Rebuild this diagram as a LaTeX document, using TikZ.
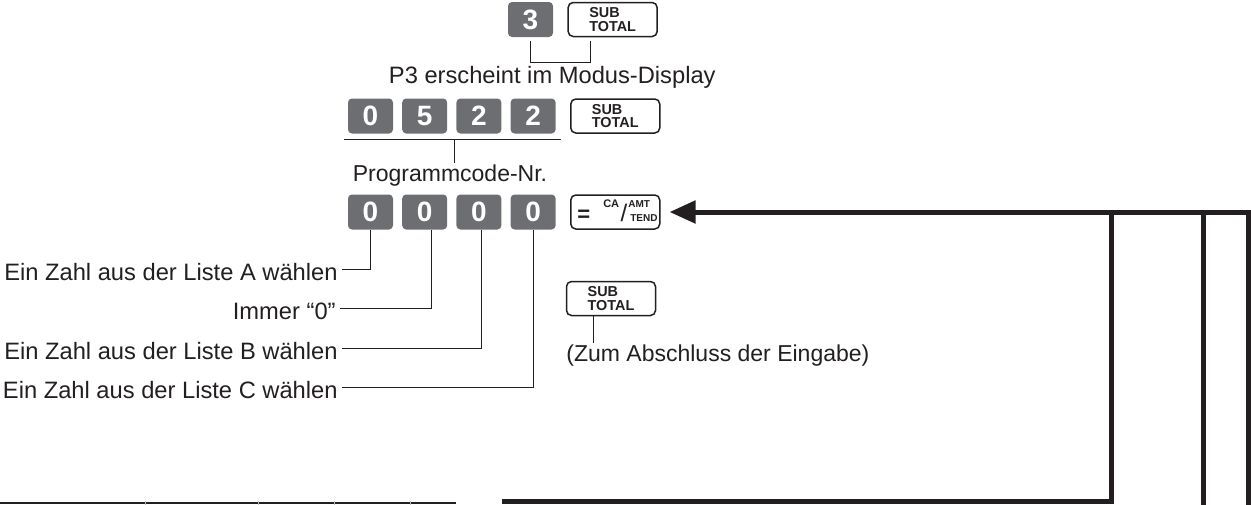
\documentclass[tikz,border=0pt]{standalone}
\usepackage{fontspec}
\setmainfont{Liberation Sans}
\usepackage{xcolor}
\usepackage{tikz}
\usetikzlibrary{arrows.meta, positioning, calc}
\definecolor{keygray}{HTML}{6D6E71}
\definecolor{ink}{HTML}{231F20}
\newcommand{\subtotal}{SUB\\TOTAL}

\begin{document}
\begin{tikzpicture}[x=0.5pt, y=-0.5pt, >=Stealth, font=\fontsize{11.85}{14}\selectfont, color=ink, text=ink,
    numkey/.style={fill=keygray, draw=none, rounded corners=2pt, minimum width=22.5pt, minimum height=17.5pt, inner sep=0pt, text=white, font=\fontsize{14}{14}\selectfont\bfseries},
    fnkey/.style={draw=ink, line width=0.75pt, fill=white, rounded corners=2.5pt, minimum width=44.5pt, minimum height=17pt, inner sep=0pt, align=left, font=\fontsize{7.2}{6.6}\selectfont\bfseries},
    keylbl/.style={inner sep=0pt, font=\fontsize{5}{5}\selectfont\bfseries},
    lbl/.style={inner sep=1pt},
    note/.style={inner sep=1pt, font=\fontsize{11.5}{13}\selectfont},
    lead/.style={line width=0.5pt},
    loopline/.style={line width=2.5pt}]
    \useasboundingbox (0,0) rectangle (1251,504);

    \node[numkey] (k3) at (530.5,19.5) {3};
    \node[fnkey, right=7pt of k3] (st1) {\subtotal};
    \draw[lead] ([yshift=-2pt]k3.south) -- ++(0,21) -| ([shift={(-11pt,-2pt)}]st1.south);
    \node[lbl, anchor=east] (p3msg) at (718,77) {P3 erscheint im Modus-Display};

    \node[numkey] (c1) at (370.5,116) {0};
    \node[numkey, right=4.2pt of c1] (c2) {5};
    \node[numkey, right=4.2pt of c2] (c3) {2};
    \node[numkey, right=4.2pt of c3] (c4) {2};
    \node[fnkey, right=7pt of c4] (st2) {\subtotal};
    \coordinate (ulL) at ($(c1.south west)+(-4,6)$);
    \coordinate (ulR) at ($(c4.south east)+(5,6)$);
    \coordinate (ulmid) at ($(ulL)!0.51!(ulR)$);
    \draw[lead] (ulL) -- (ulR);
    \node[note] (pcode) at (450,176) {Programmcode-Nr.};
    \draw[lead] (ulmid) -- (ulmid |- pcode.north);

    \node[numkey] (z1) at (370.5,212) {0};
    \node[numkey, right=4.2pt of z1] (z2) {0};
    \node[numkey, right=4.2pt of z2] (z3) {0};
    \node[numkey, right=4.2pt of z3] (z4) {0};
    \node[fnkey, right=7pt of z4] (ca) {};
    \node[keylbl, anchor=base west] (calbl) at ($(ca.west)+(7,9)$) {{\fontsize{11}{11}\selectfont =}\hspace{6.5pt}\raisebox{6.7pt}{\fontsize{5.5}{5.5}\selectfont CA}\hspace{0.75pt}{\fontsize{12}{12}\selectfont\mdseries /}\hspace{0.5pt}\rlap{\raisebox{6.7pt}{AMT}}\hspace{1pt}TEND};

    \node[lbl, anchor=east] (labA) at (340,272) {Ein Zahl aus der Liste A wählen};
    \node[lbl, anchor=east] (labI) at (338,311) {Immer “0”};
    \node[lbl, anchor=east] (labB) at (340,351) {Ein Zahl aus der Liste B wählen};
    \node[lbl, anchor=east] (labC) at (340,390) {Ein Zahl aus der Liste C wählen};
    \draw[lead] ([shift={(1pt,1.5pt)}]labA.east) -| (z1.south);
    \draw[lead] ([shift={(1pt,1.5pt)}]labI.east) -| ([xshift=3.5pt]z2.south);
    \draw[lead] ([shift={(1pt,1.5pt)}]labB.east) -| ([xshift=1.5pt]z3.south);
    \draw[lead] ([shift={(1pt,1.5pt)}]labC.east) -| (z4.south);

    \node[fnkey] (st3) at (611,298.5) {\subtotal};
    \node[note, anchor=west] (endnote) at (564,356) {(Zum Abschluss der Eingabe)};
    \draw[lead] ([xshift=-9pt]st3.south) -- ([xshift=-9pt]st3.south |- endnote.north);

    \coordinate (backR) at (1248,510);
    \coordinate (backM) at (1203,510);
    \coordinate (backL) at (1111.5,501.5);
    \coordinate (backB) at (502,501.5);
    \draw[loopline, -{Triangle[length=13pt, width=11pt]}] (backR) |- ([xshift=4.5pt]ca.east);
    \draw[loopline] (backM) -- (backM |- ca.east);
    \draw[loopline] (backB) -- (backL) -- (backL |- ca.east);

    \draw[line width=1pt] (0,503) -- (456,503);
    \foreach \tx in {145,258,334,410}
        \draw[gray!50, line width=0.4pt] (\tx,501) -- (\tx,505);
\end{tikzpicture}
\end{document}
